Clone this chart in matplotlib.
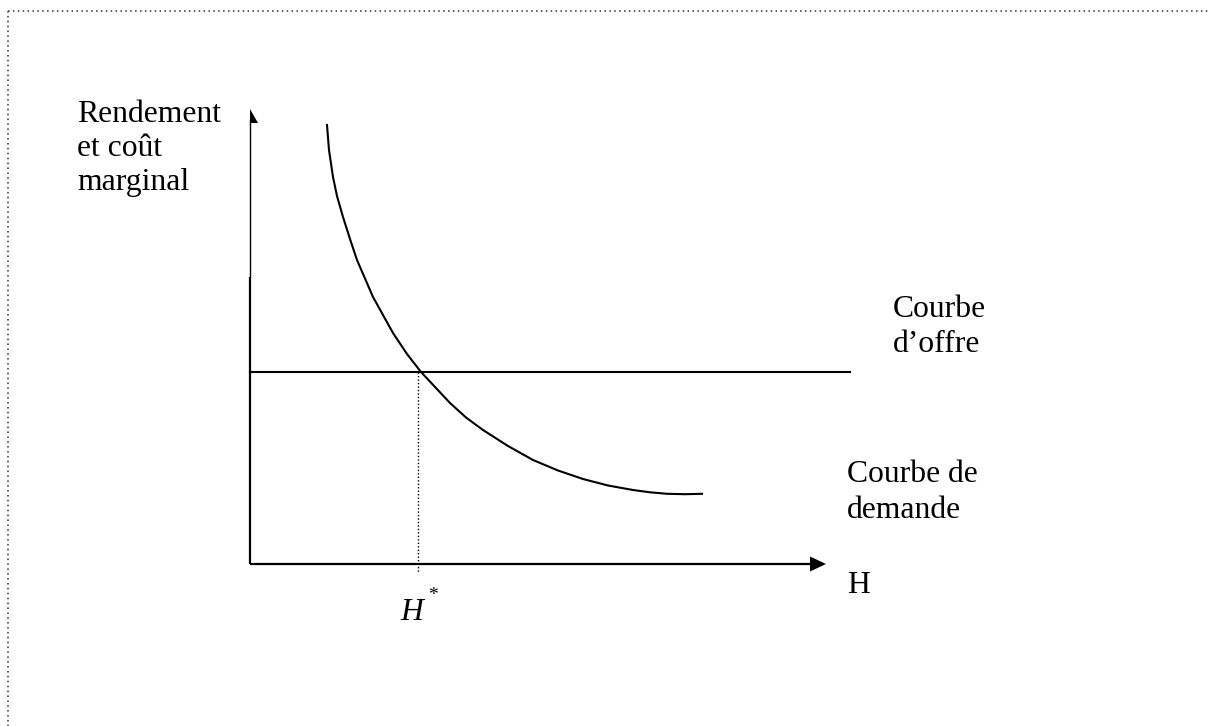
import matplotlib.pyplot as plt

plt.rcParams['font.family'] = ['Liberation Serif', 'DejaVu Serif']

# Données (unités du graphique, origine = croisement des axes)
demande_h = [77, 79, 83, 87, 93, 100, 107, 123, 143, 157, 171, 200, 216, 233,
             258, 283, 308, 333, 358, 383, 400, 417, 435, 452]
demande_v = [439, 414, 387, 368, 347, 325, 304, 267, 231, 210, 192, 161, 146.5, 134,
             118, 104, 93.5, 85, 78.5, 74, 71.7, 70.2, 69.8, 70.2]
offre_h = [0, 600]
offre_v = [192, 192]
h_etoile = 168

label_y = ['Rendement', 'et coût', 'marginal']
label_offre = ['Courbe', 'd\u2019offre']
label_demande = ['Courbe de', 'demande']

fig = plt.figure(figsize=(12.08, 7.26), dpi=100)
ax = fig.add_axes([0, 0, 1, 1])
ax.set_xlim(-250, 958)
ax.set_ylim(-162, 564)
ax.axis('off')

# Cadre pointillé (haut et gauche)
ax.plot([-242, 958], [553, 553], color='#333333', lw=1.1, ls=(0, (1, 2.2)))
ax.plot([-242, -242], [553, -162], color='#333333', lw=1.1, ls=(0, (1, 2.2)))

# Axe vertical
ax.plot([0, 0], [0, 287], color='black', lw=1.6, solid_capstyle='butt')
ax.plot([0, 0], [287, 445], color='black', lw=1.0, solid_capstyle='butt')
ax.add_patch(plt.Polygon([(0, 455), (8, 441), (0, 441)], color='black', lw=0))

# Axe horizontal
ax.plot([0, 561], [0, 0], color='black', lw=1.6, solid_capstyle='butt')
ax.add_patch(plt.Polygon([(560, 7.5), (576, 0), (560, -7.5)], color='black', lw=0))

# Courbes
ax.plot(offre_h, offre_v, color='black', lw=1.5)
ax.plot(demande_h, demande_v, color='black', lw=1.5, solid_joinstyle='round')
ax.plot([h_etoile, h_etoile], [offre_v[0], -8], color='black', lw=1.0, ls=(0, (1, 1.5)))

# Textes
fs = 22.8
for i, s in enumerate(label_y):
    ax.text(-173, 442 - i * 34, s, fontsize=fs, va='baseline', ha='left')
for i, s in enumerate(label_offre):
    ax.text(643, 247 - i * 35, s, fontsize=fs, va='baseline', ha='left')
for i, s in enumerate(label_demande):
    ax.text(597, 82 - i * 36, s, fontsize=fs, va='baseline', ha='left')
ax.text(597, -29, 'H', fontsize=fs, va='baseline', ha='left')
ax.text(150, -56, 'H', fontsize=fs, style='italic', va='baseline', ha='left')
ax.text(178, -36, '*', fontsize=14, va='baseline', ha='left')

plt.savefig('out.png', dpi=100)
